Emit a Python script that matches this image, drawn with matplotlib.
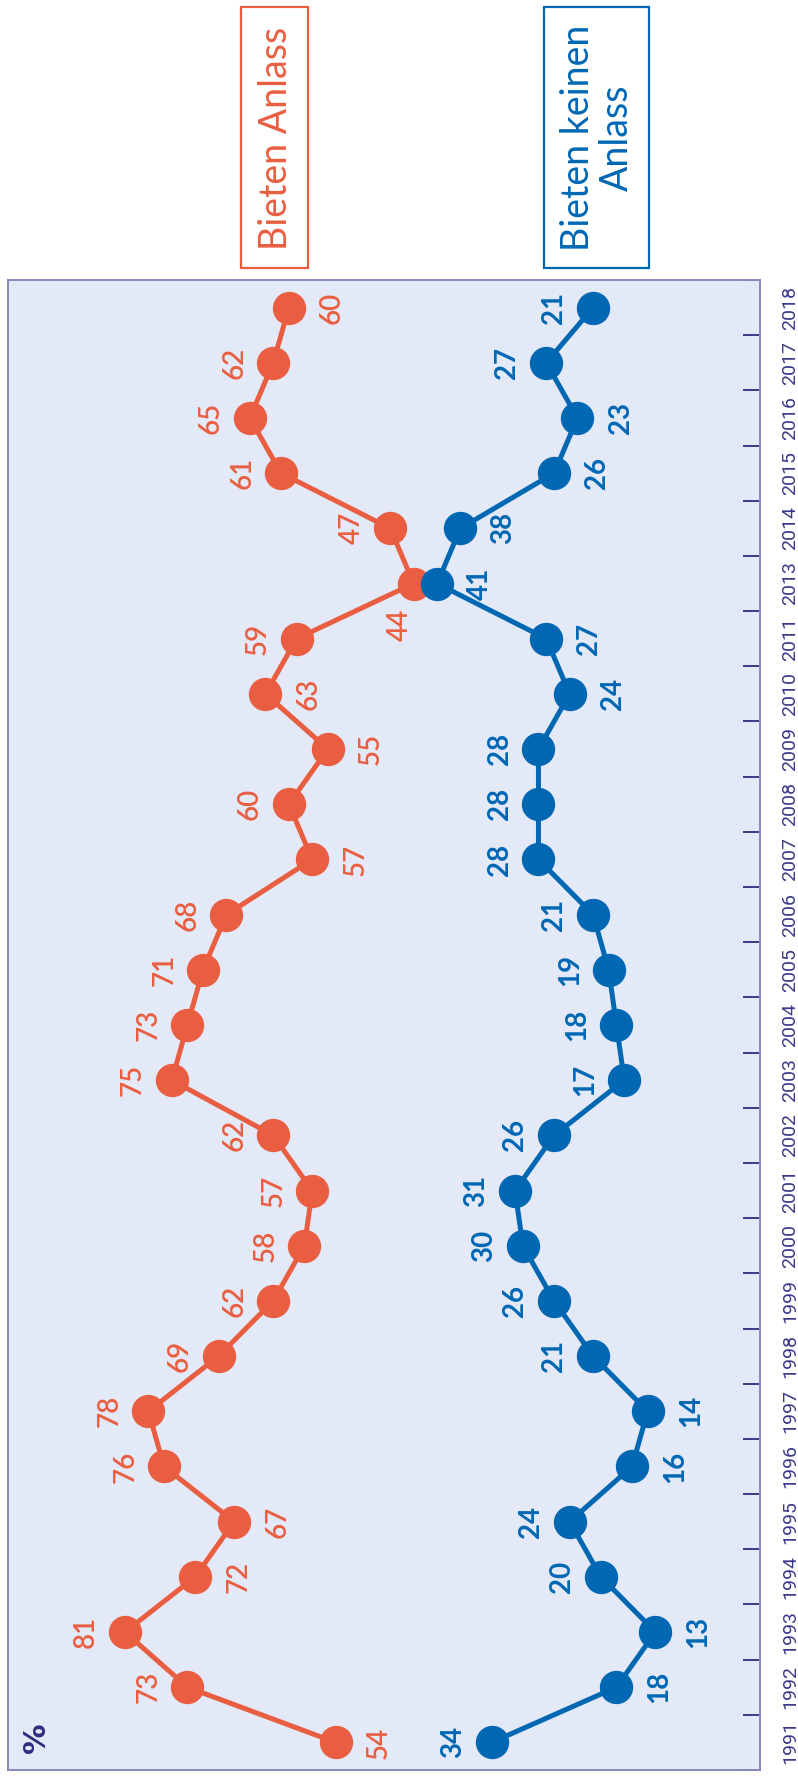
import matplotlib
matplotlib.use('Agg')
import matplotlib.pyplot as plt
from matplotlib.patches import Rectangle
import numpy as np

# survey years (no 2012)
years = ['1991', '1992', '1993', '1994', '1995', '1996', '1997', '1998', '1999',
         '2000', '2001', '2002', '2003', '2004', '2005', '2006', '2007', '2008',
         '2009', '2010', '2011', '2013', '2014', '2015', '2016', '2017', '2018']
anlass = [54, 73, 81, 72, 67, 76, 78, 69, 62, 58, 57, 62, 75, 73, 71, 68, 57,
          60, 55, 63, 59, 44, 47, 61, 65, 62, 60]
kein_anlass = [34, 18, 13, 20, 24, 16, 14, 21, 26, 30, 31, 26, 17, 18, 19, 21,
               28, 28, 28, 24, 27, 41, 38, 26, 23, 27, 21]
# side of the value label: 1 = towards high %, -1 = towards low %, 0 = below the point
anlass_side = [-1, 1, 1, -1, -1, 1, 1, 1, 1, 1, 1, 1, 1, 1, 1, 1, -1, 1, -1,
               -1, 1, 0, 1, 1, 1, 1, -1]
kein_side = [1, -1, -1, 1, 1, -1, -1, 1, 1, 1, 1, 1, 1, 1, 1, 1, 1, 1, 1, -1,
             -1, -1, -1, -1, -1, 1, 1]

ORANGE = '#E95E41'
BLUE = '#0067B3'
NAVY = '#2E2C7E'
W, H = 798, 1776

fig = plt.figure(figsize=(W / 100, H / 100), dpi=100)
ax = fig.add_axes([8 / W, 6 / H, 752 / W, 1490 / H])
ax.set_facecolor('#E4E9F7')

pos = np.arange(len(years))
ax.plot(anlass, pos, color=ORANGE, lw=3.6, marker='o', ms=23, zorder=3)
ax.plot(kein_anlass, pos, color=BLUE, lw=3.6, marker='o', ms=23, zorder=4)

lab_font = ['Lato', 'DejaVu Sans']
offs = {1: (-28, 0), -1: (31, 0), 0: (-10, -30)}
for vals, sides, col, wt in [(anlass, anlass_side, ORANGE, 'semibold'),
                             (kein_anlass, kein_side, BLUE, 'bold')]:
    for p, v, s in zip(pos, vals, sides):
        ax.annotate(str(v), (v, p), xytext=offs[s], textcoords='offset points',
                    ha='center', va='center', rotation=90, fontsize=20,
                    fontweight=wt, color=col, family=lab_font, zorder=5)

ax.set_xlim(96, -0.4)
ax.set_ylim(-0.5, len(years) - 0.5)
ax.set_xticks([])

ax.yaxis.tick_right()
ax.set_yticks(np.arange(-0.5, len(years), 1))
ax.set_yticks(pos, years, minor=True)
ax.tick_params(axis='y', which='major', direction='in', length=12, width=1.3,
               color=NAVY, labelright=False, labelleft=False)
ax.tick_params(axis='y', which='minor', length=0, pad=15, labelsize=14,
               labelcolor='#3B3A8A')
for t in ax.get_yticklabels(minor=True):
    t.set_rotation(90)
    t.set_va('center')
    t.set_family(['Roboto', 'DejaVu Sans'])
for sp in ax.spines.values():
    sp.set_color('#8A86C2')
    sp.set_linewidth(1.4)

fig.text(37 / W, 1 - 1738 / H, '%', rotation=90, ha='center', va='center',
         fontsize=22, fontweight='bold', color=NAVY)

# legend boxes
fig.add_artist(Rectangle((241 / W, 1 - 268 / H), 67 / W, 261 / H,
                         transform=fig.transFigure, fill=False, ec=ORANGE, lw=1.6))
fig.text(276 / W, 1 - 138 / H, 'Bieten Anlass', rotation=90, ha='center',
         va='center', fontsize=27, color=ORANGE, family='Lato')
fig.add_artist(Rectangle((544 / W, 1 - 268 / H), 105 / W, 261 / H,
                         transform=fig.transFigure, fill=False, ec=BLUE, lw=1.6))
fig.text(597 / W, 1 - 138 / H, 'Bieten keinen\nAnlass', rotation=90, ha='center',
         va='center', multialignment='center', fontsize=27, color=BLUE,
         family='Lato', linespacing=1.1)

fig.savefig('out.png', dpi=100)
